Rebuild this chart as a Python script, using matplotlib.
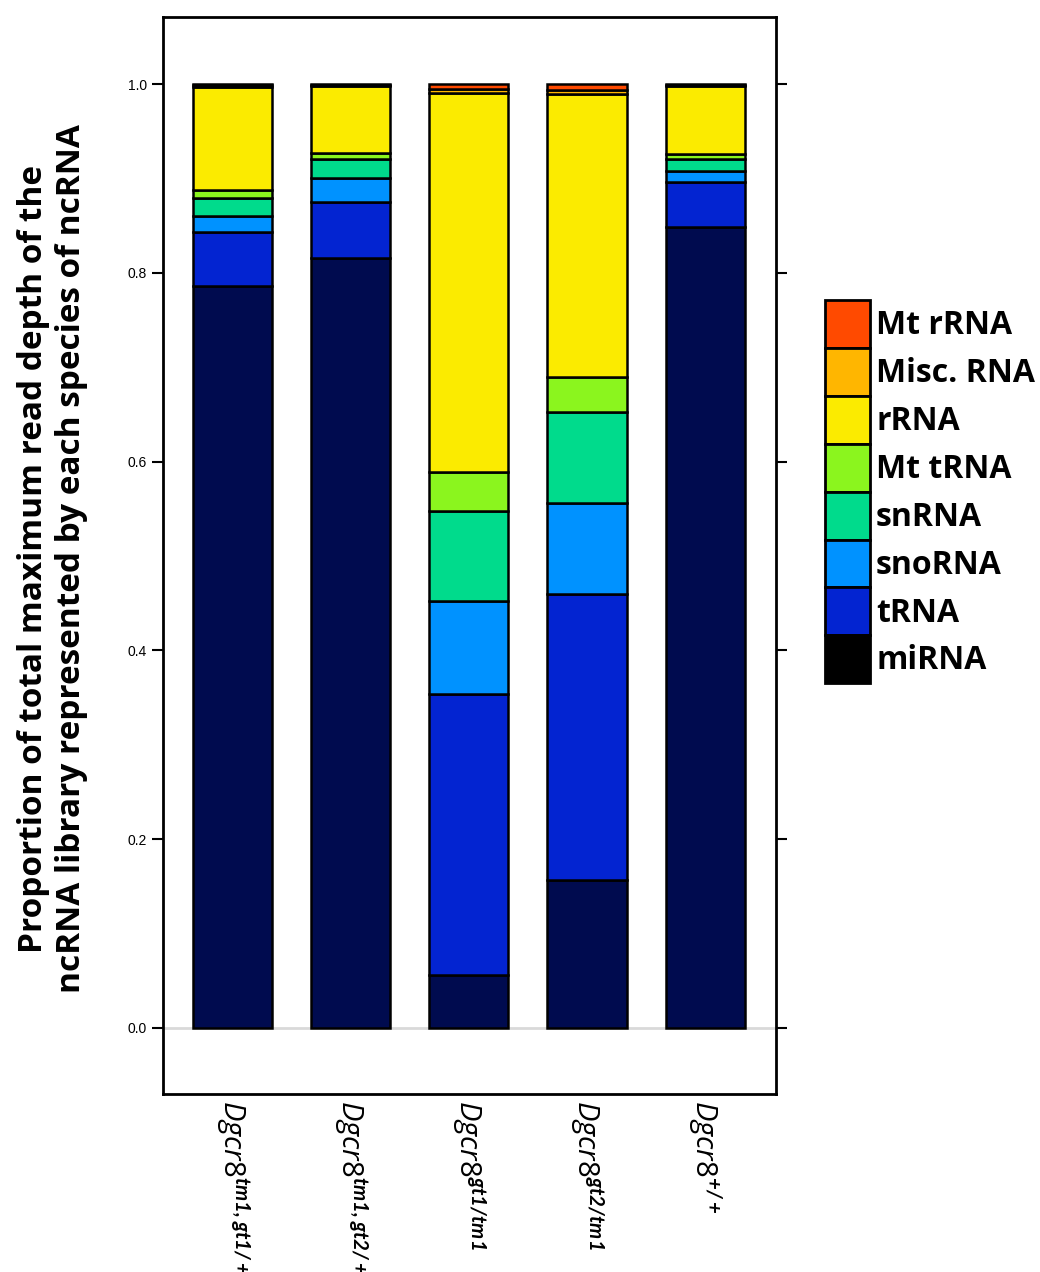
import matplotlib
matplotlib.use("Agg")
import matplotlib.pyplot as plt
import numpy as np
from matplotlib.patches import Patch

# genotypes along the x axis (mathtext: italic gene name, bold allele superscript)
genotypes = [r'$\mathit{Dgcr8}^{\mathbf{tm1,gt1/+}}$',
             r'$\mathit{Dgcr8}^{\mathbf{tm1,gt2/+}}$',
             r'$\mathit{Dgcr8}^{\mathbf{gt1/tm1}}$',
             r'$\mathit{Dgcr8}^{\mathbf{gt2/tm1}}$',
             r'$\mathit{Dgcr8}^{\mathbf{+/+}}$']

# ncRNA species, stacked from the bottom up
species = ['miRNA', 'tRNA', 'snoRNA', 'snRNA', 'Mt tRNA', 'rRNA', 'Misc. RNA', 'Mt rRNA']

# proportion of read depth per species, one list per species (same order as genotypes)
miRNA   = [0.786, 0.816, 0.056, 0.157, 0.849]
tRNA    = [0.057, 0.059, 0.298, 0.303, 0.047]
snoRNA  = [0.017, 0.025, 0.098, 0.096, 0.012]
snRNA   = [0.019, 0.021, 0.096, 0.097, 0.013]
mt_tRNA = [0.009, 0.006, 0.041, 0.037, 0.005]
rRNA    = [0.109, 0.071, 0.401, 0.299, 0.072]
misc    = [0.002, 0.001, 0.005, 0.005, 0.001]
mt_rRNA = [0.001, 0.001, 0.005, 0.006, 0.001]
values = [miRNA, tRNA, snoRNA, snRNA, mt_tRNA, rRNA, misc, mt_rRNA]

bar_colors = ['#000b4f', '#0324d1', '#0092ff', '#00db8c', '#8bf51e', '#fbeb00', '#ffb600', '#ff4a00']
key_colors = ['#000000'] + bar_colors[1:]

plt.rcParams['font.family'] = ['Open Sans', 'DejaVu Sans']
plt.rcParams['mathtext.fontset'] = 'custom'
plt.rcParams['mathtext.it'] = 'Open Sans:italic'
plt.rcParams['mathtext.bf'] = 'Lato:italic:bold'
plt.rcParams['mathtext.rm'] = 'Open Sans'

fig = plt.figure(figsize=(10.4, 12.72), dpi=100)
ax = fig.add_axes([163/1040, 1 - 1094/1272, (776 - 163)/1040, (1094 - 17)/1272])

x = np.arange(1, len(genotypes) + 1)
bottom = np.zeros(len(genotypes))
for name, vals, col in zip(species, values, bar_colors):
    ax.bar(x, vals, width=0.67, bottom=bottom, color=col,
           edgecolor='black', linewidth=1.8, zorder=3)
    bottom += np.array(vals)

ax.axhline(0, color='#d9d9d9', linewidth=2, zorder=1)

ax.set_xlim(0.41, 5.6)
ax.set_ylim(-0.07, 1.071)
ax.set_yticks(np.arange(0, 1.01, 0.2))
ax.set_yticklabels(['%.1f' % v for v in np.arange(0, 1.01, 0.2)],
                   fontfamily='Liberation Sans', fontsize=10)
ax.tick_params(axis='y', direction='out', length=8, width=1.5, right=True)
ax.set_xticks(x)
ax.set_xticklabels(genotypes, rotation=-90, fontsize=21, ha='center', va='top')
ax.tick_params(axis='x', length=0, pad=4)
for sp in ax.spines.values():
    sp.set_linewidth(2)

fig.text(53/1040, 1 - 559/1272,
         'Proportion of total maximum read depth of the\n'
         'ncRNA library represented by each species of ncRNA',
         rotation=90, ha='center', va='center', multialignment='center',
         fontsize=24, fontweight='bold', linespacing=1.2)

handles = [Patch(facecolor=c, edgecolor='black', linewidth=2) for c in key_colors]
fig.legend(handles[::-1], species[::-1], loc='upper left',
           bbox_to_anchor=(825/1040, 1 - 300/1272), frameon=False,
           handlelength=1.4, handleheight=1.93, handletextpad=0.2,
           labelspacing=0, borderpad=0, borderaxespad=0,
           prop={'weight': 'bold', 'size': 23})

fig.savefig('out.png', dpi=100)
